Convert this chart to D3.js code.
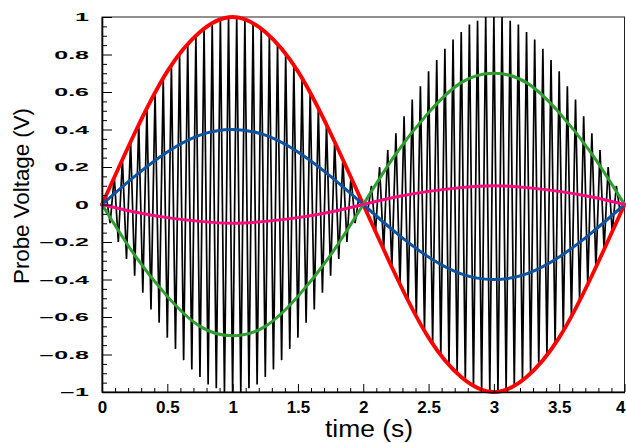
<!DOCTYPE html>
<html>
<head>
<meta charset="utf-8">
<script src="https://cdn.jsdelivr.net/npm/d3@7"></script>
<style>
  html, body { margin: 0; padding: 0; background: #fff; overflow: hidden; }
  svg { display: block; font-family: "Liberation Sans", Arial, Helvetica, sans-serif; }
</style>
</head>
<body>
<svg id="chart" width="626" height="443"></svg>
<script>
// Envelope curves, sampled every 0.25 s (volts)
const sampleTimes = [0, 0.25, 0.5, 0.75, 1, 1.25, 1.5, 1.75, 2, 2.25, 2.5, 2.75, 3, 3.25, 3.5, 3.75, 4];
const redVolts   = [0, 0.38, 0.71, 0.92, 1.00, 0.92, 0.71, 0.38, 0, -0.38, -0.71, -0.92, -1.00, -0.92, -0.71, -0.38, 0];
const blueVolts  = [0, 0.15, 0.28, 0.37, 0.40, 0.37, 0.28, 0.15, 0, -0.15, -0.28, -0.37, -0.40, -0.37, -0.28, -0.15, 0];
const greenVolts = [0, -0.27, -0.49, -0.65, -0.70, -0.65, -0.49, -0.27, 0, 0.27, 0.49, 0.65, 0.70, 0.65, 0.49, 0.27, 0];
const pinkVolts  = [0, -0.04, -0.07, -0.09, -0.10, -0.09, -0.07, -0.04, 0, 0.04, 0.07, 0.09, 0.10, 0.09, 0.07, 0.04, 0];

// Probe signal: successive crest/trough values, one every 1/32 s
const spikeStep = 1 / 32;
const spikeVolts = [
  0, 0.05, -0.10, 0.15, -0.20, 0.24, -0.29, 0.34, -0.38, 0.43, -0.47, 0.51, -0.56, 0.60, -0.63, 0.67,
  -0.71, 0.74, -0.77, 0.80, -0.83, 0.86, -0.88, 0.90, -0.92, 0.94, -0.96, 0.97, -0.98, 0.99, -1.00, 1.00,
  -1.00, 1.00, -1.00, 0.99, -0.98, 0.97, -0.96, 0.94, -0.92, 0.90, -0.88, 0.86, -0.83, 0.80, -0.77, 0.74,
  -0.71, 0.67, -0.63, 0.60, -0.56, 0.51, -0.47, 0.43, -0.38, 0.34, -0.29, 0.24, -0.20, 0.15, -0.10, 0.05,
  0, -0.05, 0.10, -0.15, 0.20, -0.24, 0.29, -0.34, 0.38, -0.43, 0.47, -0.51, 0.56, -0.60, 0.63, -0.67,
  0.71, -0.74, 0.77, -0.80, 0.83, -0.86, 0.88, -0.90, 0.92, -0.94, 0.96, -0.97, 0.98, -0.99, 1.00, -1.00,
  1.00, -1.00, 1.00, -0.99, 0.98, -0.97, 0.96, -0.94, 0.92, -0.90, 0.88, -0.86, 0.83, -0.80, 0.77, -0.74,
  0.71, -0.67, 0.63, -0.60, 0.56, -0.51, 0.47, -0.43, 0.38, -0.34, 0.29, -0.24, 0.20, -0.15, 0.10, -0.05,
  0
];

// Axis ticks
const xMajorTicks = [0, 0.5, 1, 1.5, 2, 2.5, 3, 3.5, 4];
const xMinorTicks = [0.1, 0.2, 0.3, 0.4, 0.6, 0.7, 0.8, 0.9, 1.1, 1.2, 1.3, 1.4, 1.6, 1.7, 1.8, 1.9,
                     2.1, 2.2, 2.3, 2.4, 2.6, 2.7, 2.8, 2.9, 3.1, 3.2, 3.3, 3.4, 3.6, 3.7, 3.8, 3.9];
const yMajorTicks = [-1, -0.8, -0.6, -0.4, -0.2, 0, 0.2, 0.4, 0.6, 0.8, 1];
const yMinorTicks = [-0.95, -0.9, -0.85, -0.75, -0.7, -0.65, -0.55, -0.5, -0.45, -0.35, -0.3, -0.25,
                     -0.15, -0.1, -0.05, 0.05, 0.1, 0.15, 0.25, 0.3, 0.35, 0.45, 0.5, 0.55,
                     0.65, 0.7, 0.75, 0.85, 0.9, 0.95];

const xTitle = "time (s)";
const yTitle = "Probe Voltage (V)";

const svg = d3.select("#chart");
svg.append("rect").attr("width", 626).attr("height", 443).attr("fill", "#fff");

const x = d3.scaleLinear().domain([0, 4]).range([102, 624.5]);
const y = d3.scaleLinear().domain([-1, 1]).range([392, 17]);

// Plot frame
svg.append("rect")
  .attr("x", x(0)).attr("y", y(1))
  .attr("width", x(4) - x(0)).attr("height", y(-1) - y(1))
  .attr("fill", "none").attr("stroke", "#222").attr("stroke-width", 1);

const plot = svg.append("g");

// Probe signal
const spikeLine = d3.line()
  .x((d, i) => x(i * spikeStep))
  .y(d => y(d));
plot.append("path")
  .datum(spikeVolts)
  .attr("d", spikeLine)
  .attr("fill", "none")
  .attr("stroke", "#000")
  .attr("stroke-width", 1.7)
  .attr("stroke-linejoin", "miter");

// Envelope curves
const smooth = d3.line()
  .x((d, i) => x(sampleTimes[i]))
  .y(d => y(d))
  .curve(d3.curveNatural);

const curves = [
  { values: redVolts,   color: "#ff0000", width: 3.8 },
  { values: blueVolts,  color: "#0b52a0", width: 3 },
  { values: greenVolts, color: "#2e9e2e", width: 3 },
  { values: pinkVolts,  color: "#ff0a80", width: 3 }
];
curves.forEach(c => {
  plot.append("path")
    .datum(c.values)
    .attr("d", smooth)
    .attr("fill", "none")
    .attr("stroke", c.color)
    .attr("stroke-width", c.width)
    .attr("stroke-linecap", "round");
});

// X axis
const gx = svg.append("g").attr("transform", `translate(0,${y(-1)})`);
gx.append("g")
  .call(d3.axisBottom(x).tickValues(xMinorTicks).tickSize(-4).tickSizeOuter(0).tickFormat(""))
  .call(g => g.select(".domain").remove());
gx.append("g")
  .call(d3.axisBottom(x).tickValues(xMajorTicks).tickSize(-8).tickSizeOuter(0).tickFormat(d3.format("")))
  .call(g => g.select(".domain").attr("stroke-width", 1.6))
  .call(g => g.selectAll(".tick text")
    .attr("y", 21).attr("dy", 0)
    .attr("fill", "#000")
    .style("font-size", "17px").style("font-weight", "bold"))
  // keep the last label inside the page edge
  .call(g => g.selectAll(".tick text").filter(d => d === 4)
    .attr("x", 625 - x(4)).style("text-anchor", "end"));
gx.selectAll(".tick line").attr("stroke", "#000").attr("stroke-width", 1);

// Y axis
const gy = svg.append("g").attr("transform", `translate(${x(0)},0)`);
gy.append("g")
  .call(d3.axisLeft(y).tickValues(yMinorTicks).tickSize(-5).tickSizeOuter(0).tickFormat(""))
  .call(g => g.select(".domain").remove());
gy.append("g")
  .call(d3.axisLeft(y).tickValues(yMajorTicks).tickSize(-10).tickSizeOuter(0).tickFormat(d3.format("")))
  .call(g => g.select(".domain").attr("stroke-width", 1.6))
  .call(g => g.selectAll(".tick text")
    .attr("x", 0).attr("dy", "0.36em")
    .attr("transform", "translate(-13,0) scale(2.5,1)")
    .attr("fill", "#000")
    .style("text-anchor", "end")
    .style("font-size", "10px").style("font-weight", "bold"));
gy.selectAll(".tick line").attr("stroke", "#000").attr("stroke-width", 1);

// Axis titles
svg.append("text")
  .attr("transform", `translate(369,437) scale(1.1,1)`)
  .attr("text-anchor", "middle")
  .style("font-size", "24px")
  .attr("fill", "#000")
  .text(xTitle);

svg.append("text")
  .attr("transform", `translate(29,196) rotate(-90) scale(0.97,1)`)
  .attr("text-anchor", "middle")
  .style("font-size", "23px")
  .attr("fill", "#000")
  .text(yTitle);
</script>
</body>
</html>
